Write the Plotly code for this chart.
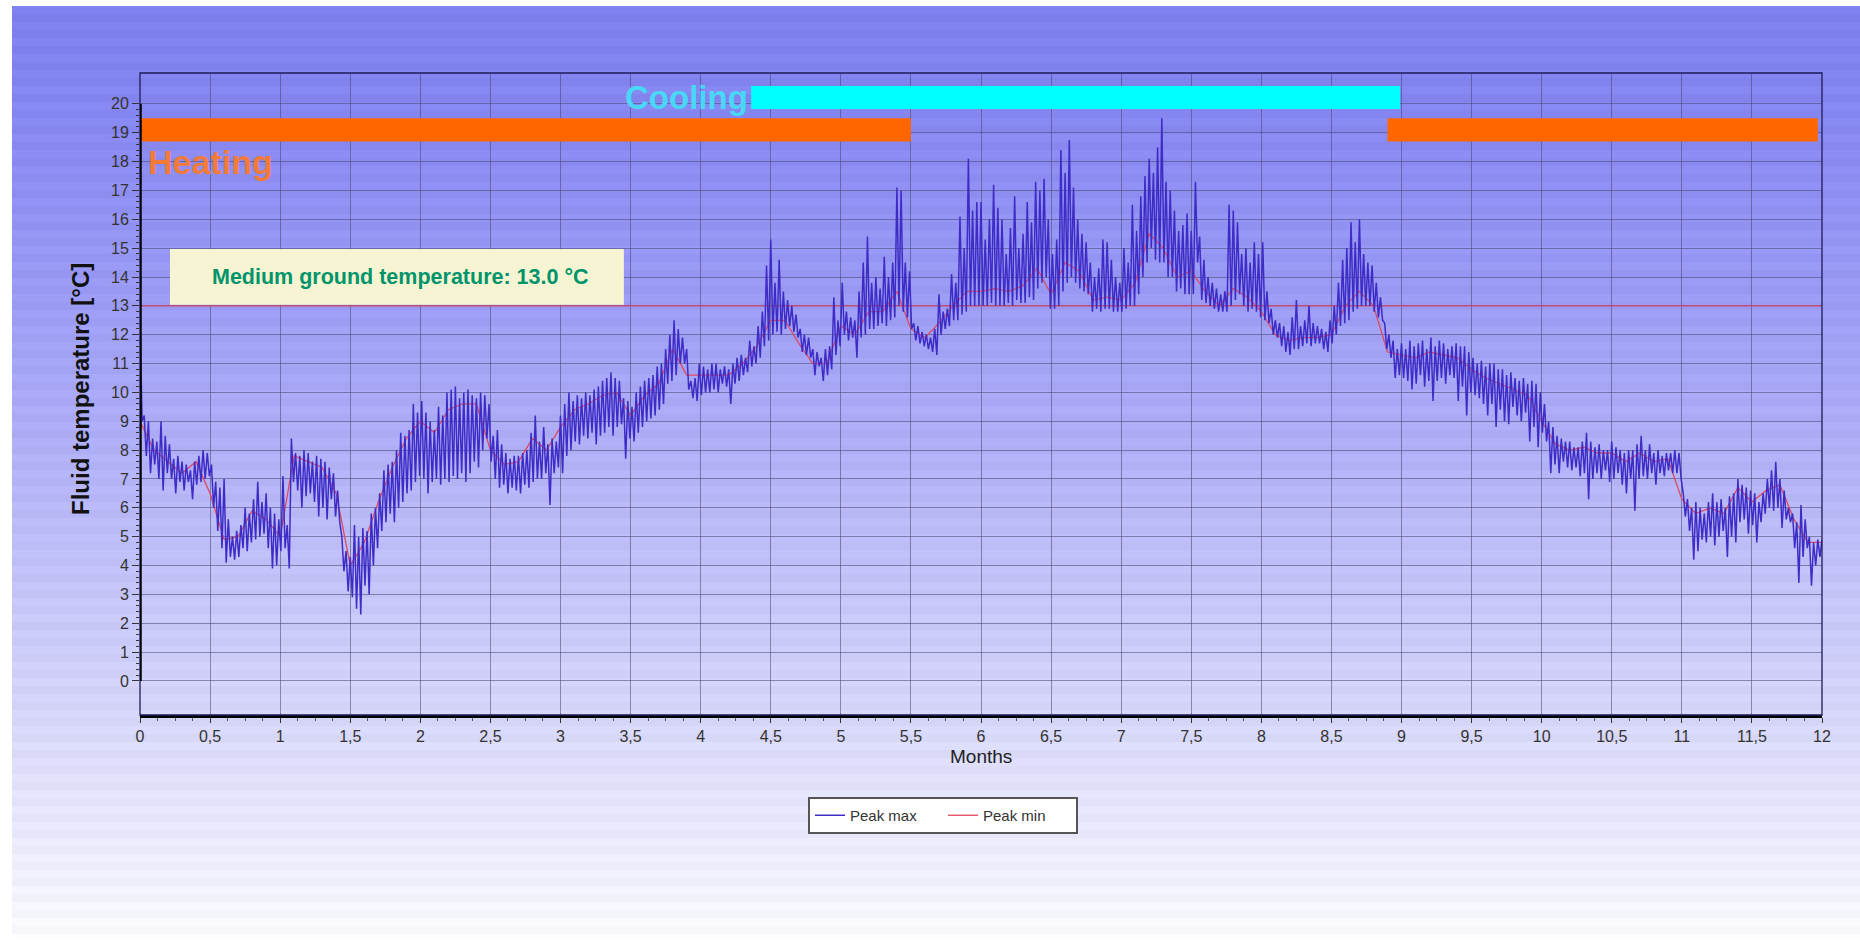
import numpy as np
import plotly.graph_objects as go

# ---------------- data ----------------
x_tick_vals = [0, 0.5, 1, 1.5, 2, 2.5, 3, 3.5, 4, 4.5, 5, 5.5, 6, 6.5, 7, 7.5, 8, 8.5,
               9, 9.5, 10, 10.5, 11, 11.5, 12]
x_tick_text = ["0", "0,5", "1", "1,5", "2", "2,5", "3", "3,5", "4", "4,5", "5", "5,5", "6",
               "6,5", "7", "7,5", "8", "8,5", "9", "9,5", "10", "10,5", "11", "11,5", "12"]
y_tick_vals = list(range(0, 21))

# Peak max: alternating high / low readings, one pair every 0.03 month (one row = 0.3 month)
peak_max = [
    12.3, 9.0, 9.2, 7.8, 9.0, 7.2, 8.4, 7.5, 8.3, 7.0, 9.0, 6.6, 8.5, 7.2, 8.2, 7.0, 7.7, 6.5, 7.8, 6.9,
    7.6, 6.6, 7.5, 6.9, 7.3, 6.3, 7.6, 6.8, 7.8, 6.9, 8.0, 7.0, 7.9, 7.1, 7.5, 6.0, 6.9, 5.2, 6.7, 4.6,
    7.0, 4.1, 5.6, 4.3, 5.0, 4.2, 5.2, 4.3, 5.4, 4.6, 6.0, 4.5, 5.8, 4.8, 6.3, 4.9, 6.9, 5.0, 6.2, 5.1,
    6.5, 4.6, 6.0, 3.9, 5.8, 4.0, 5.6, 4.5, 7.1, 4.6, 5.4, 3.9, 8.4, 6.9, 7.9, 6.6, 7.8, 6.0, 8.0, 6.4,
    7.9, 6.5, 7.6, 6.2, 7.8, 5.7, 7.7, 6.0, 7.6, 5.6, 7.4, 6.3, 7.2, 5.7, 6.6, 5.5, 5.0, 3.8, 4.5, 3.1,
    4.3, 2.9, 5.4, 2.5, 5.0, 2.3, 5.3, 3.3, 5.2, 3.0, 5.8, 4.0, 6.0, 4.6, 6.5, 5.2, 7.3, 5.5, 7.5, 5.8,
    7.6, 5.5, 8.0, 6.0, 8.6, 6.2, 8.5, 6.5, 8.7, 6.6, 9.6, 6.9, 9.3, 7.1, 9.7, 7.0, 9.3, 6.5, 9.0, 6.9,
    8.7, 7.0, 9.5, 6.8, 9.2, 7.0, 10.0, 6.9, 10.1, 7.1, 10.2, 7.0, 9.8, 7.2, 10.0, 6.9, 10.1, 7.2, 9.9, 7.6,
    9.8, 7.4, 10.0, 8.0, 9.9, 8.4, 9.6, 7.6, 8.5, 7.0, 8.7, 6.7, 8.2, 6.8, 7.9, 6.5, 7.7, 6.7, 7.8, 6.6,
    7.8, 6.5, 7.9, 6.8, 8.0, 6.7, 8.6, 6.9, 9.2, 7.0, 8.3, 7.0, 8.8, 7.2, 8.2, 6.1, 8.4, 7.2, 8.3, 7.4,
    9.2, 7.2, 9.6, 7.8, 10.0, 8.0, 9.7, 8.3, 9.9, 8.2, 9.8, 8.5, 10.0, 8.4, 9.9, 8.6, 10.1, 8.2, 10.2, 8.5,
    10.4, 8.6, 10.5, 8.8, 10.7, 8.5, 10.5, 8.8, 10.4, 8.9, 9.8, 7.7, 9.7, 8.4, 9.5, 8.3, 10.0, 8.6, 10.2, 8.8,
    10.4, 9.0, 10.5, 9.1, 10.6, 9.2, 10.9, 9.4, 11.0, 9.6, 11.5, 10.3, 12.0, 10.4, 12.5, 10.6, 12.2, 11.0, 11.9, 11.0,
    11.5, 10.1, 10.4, 9.8, 10.5, 9.7, 11.0, 9.9, 10.9, 10.0, 10.8, 10.0, 11.0, 10.1, 11.0, 10.0, 10.8, 10.3, 10.9, 10.2,
    10.8, 9.6, 11.0, 10.3, 11.2, 10.4, 11.3, 10.6, 11.2, 10.7, 11.8, 10.9, 11.6, 11.0, 12.3, 11.2, 12.8, 11.6, 14.4, 11.8,
    15.3, 12.0, 13.8, 12.1, 14.6, 12.0, 13.5, 12.2, 13.2, 12.3, 13.0, 12.1, 12.7, 11.9, 12.2, 11.4, 12.0, 11.3, 11.9, 11.2,
    11.5, 10.6, 11.4, 10.9, 11.2, 10.4, 11.5, 10.6, 11.6, 10.8, 13.3, 11.3, 12.5, 11.6, 13.8, 12.0, 12.8, 11.8, 12.6, 11.9,
    12.5, 11.2, 13.5, 11.9, 14.5, 12.0, 15.4, 12.2, 13.8, 12.2, 14.0, 12.3, 13.6, 12.4, 14.7, 12.3, 14.0, 12.5, 14.5, 12.6,
    17.1, 13.0, 17.0, 12.8, 14.5, 12.6, 14.2, 12.2, 12.4, 11.8, 12.3, 11.7, 12.1, 11.6, 12.0, 11.5, 11.9, 11.4, 12.2, 11.3,
    13.4, 12.0, 12.8, 12.2, 12.9, 12.3, 14.1, 12.5, 13.8, 12.5, 16.1, 12.7, 15.0, 12.8, 18.1, 13.0, 16.3, 13.0, 16.6, 13.0,
    16.6, 13.0, 15.3, 13.0, 16.0, 13.1, 17.2, 13.0, 16.4, 13.0, 16.0, 13.0, 14.8, 13.1, 15.7, 13.0, 16.8, 13.2, 15.0, 13.1,
    15.5, 13.1, 16.6, 13.3, 15.9, 13.2, 17.3, 13.6, 17.0, 13.8, 17.4, 14.0, 16.0, 12.9, 14.8, 12.9, 15.3, 13.0, 18.4, 13.5,
    17.6, 13.8, 18.75, 14.0, 17.1, 13.8, 16.0, 13.6, 15.5, 13.5, 15.2, 13.4, 14.5, 12.8, 14.0, 12.9, 14.3, 12.8, 15.3, 12.9,
    15.2, 12.9, 14.6, 12.8, 14.0, 12.8, 13.8, 12.8, 15.0, 12.9, 14.5, 13.0, 16.5, 13.0, 15.6, 13.4, 16.8, 14.0, 17.5, 14.5,
    18.1, 15.0, 17.6, 14.6, 18.5, 14.5, 19.5, 14.5, 17.3, 14.0, 17.0, 14.0, 16.3, 13.5, 15.6, 13.6, 15.8, 13.4, 16.2, 13.4,
    15.6, 13.4, 17.3, 14.5, 15.4, 13.2, 14.6, 13.1, 14.0, 13.0, 13.8, 12.9, 13.6, 12.8, 13.4, 12.8, 13.5, 12.8, 16.5, 13.0,
    16.3, 13.2, 15.9, 13.4, 14.8, 13.0, 15.0, 12.8, 14.5, 12.9, 15.2, 12.8, 14.8, 12.6, 15.2, 12.5, 13.5, 12.4, 12.9, 12.0,
    12.5, 11.9, 12.4, 11.6, 12.3, 11.4, 12.1, 11.3, 12.6, 11.5, 13.2, 11.5, 12.3, 11.6, 12.5, 11.7, 13.0, 11.6, 12.4, 11.7,
    12.3, 11.7, 12.2, 11.5, 12.1, 11.4, 12.5, 11.7, 13.0, 12.0, 13.8, 12.3, 14.6, 12.4, 15.0, 12.5, 15.9, 12.8, 15.2, 12.9,
    16.0, 13.0, 14.8, 13.0, 14.5, 13.0, 14.4, 12.8, 13.8, 12.6, 13.3, 12.5, 12.4, 11.5, 12.0, 11.2, 11.8, 10.5, 11.5, 10.6,
    11.7, 10.5, 11.5, 10.4, 11.8, 10.1, 11.6, 10.3, 11.7, 10.6, 11.8, 10.2, 11.5, 10.4, 11.9, 9.7, 11.6, 10.4, 11.8, 10.5,
    11.7, 10.3, 11.5, 10.6, 11.6, 10.5, 11.7, 9.7, 11.6, 10.2, 11.6, 9.2, 11.4, 10.0, 11.2, 9.9, 11.0, 9.8, 11.1, 9.6,
    10.9, 9.2, 11.0, 9.6, 11.0, 8.8, 10.8, 9.4, 10.8, 9.0, 10.6, 8.9, 10.7, 9.5, 10.5, 9.2, 10.4, 9.0, 10.5, 9.3,
    10.3, 8.3, 10.4, 8.8, 10.3, 8.1, 10.0, 8.6, 9.6, 8.3, 9.0, 7.2, 8.8, 7.5, 8.5, 7.2, 8.4, 7.6, 8.3, 7.4,
    8.3, 7.3, 8.1, 7.4, 8.1, 7.1, 8.3, 7.2, 8.6, 6.3, 8.3, 7.0, 8.1, 7.2, 8.2, 7.0, 8.0, 7.3, 8.0, 6.9,
    8.3, 7.0, 8.1, 7.2, 8.0, 6.8, 7.9, 6.5, 8.0, 7.0, 8.0, 5.9, 8.2, 7.0, 8.5, 7.1, 8.0, 7.0, 8.2, 7.2,
    7.9, 6.8, 8.0, 7.2, 7.8, 7.1, 7.9, 7.3, 7.9, 7.2, 8.0, 7.2, 7.9, 7.0, 6.5, 5.7, 6.3, 5.2, 6.0, 4.2,
    6.2, 4.5, 6.0, 4.9, 5.8, 4.8, 6.2, 5.0, 6.5, 4.7, 6.2, 5.0, 6.3, 5.2, 6.0, 4.3, 6.4, 5.0, 6.5, 4.8,
    7.0, 5.5, 6.8, 5.6, 6.7, 5.1, 6.6, 5.4, 6.5, 4.8, 6.2, 5.5, 6.5, 5.8, 7.0, 6.0, 7.3, 5.9, 7.6, 6.0,
    7.0, 5.3, 6.6, 5.6, 6.0, 5.5, 5.8, 4.6, 5.5, 3.4, 6.1, 4.3, 5.6, 4.6, 5.0, 3.3, 4.8, 4.0, 4.9, 4.3,
    4.9,
]
peak_max_step = 0.015  # months between consecutive readings

# Peak min: one reading every 0.1 month
peak_min = [
    9.0, 8.0, 7.6, 7.2, 7.6, 6.5, 4.9, 5.0, 5.9, 5.6,
    5.0, 7.8, 7.6, 7.4, 6.5, 4.0, 4.8, 6.2, 7.4, 8.4,
    9.0, 8.6, 9.4, 9.6, 9.6, 8.0, 7.5, 7.6, 8.4, 8.0,
    8.8, 9.4, 9.6, 9.9, 10.0, 9.2, 9.9, 10.3, 11.5, 10.6,
    10.6, 10.6, 10.6, 11.0, 11.6, 12.5, 12.5, 11.7, 11.0, 11.0,
    12.3, 12.0, 12.8, 12.8, 13.5, 12.2, 11.9, 12.4, 13.0, 13.5,
    13.5, 13.6, 13.5, 13.7, 14.3, 13.4, 14.5, 14.2, 13.2, 13.3,
    13.2, 13.8, 15.5, 15.0, 14.0, 14.2, 13.5, 13.0, 13.6, 13.3,
    12.8, 12.0, 11.8, 11.9, 11.9, 12.0, 13.0, 13.5, 13.0, 11.4,
    11.3, 11.2, 11.4, 11.3, 11.2, 10.8, 10.5, 10.3, 10.1, 9.9,
    9.0, 8.2, 8.0, 8.1, 7.9, 7.9, 7.6, 7.9, 7.6, 7.7,
    6.3, 5.8, 6.0, 5.8, 6.7, 6.2, 6.6, 6.8, 5.6, 4.8,
    4.8,
]
peak_min_step = 0.1

ground_temp = 13.0
heating_periods = [(0.0, 5.5), (8.9, 11.97)]
cooling_periods = [(4.36, 8.99)]
heating_band = (18.7, 19.5)
cooling_band = (19.82, 20.62)

# ---------------- layout geometry ----------------
W, H = 1860, 940
# plot box in window pixels
L, R, T, B = 140, 1822, 73, 715


def pxx(px):
    return (px - L) / (R - L)


def pxy(py):
    return (B - py) / (B - T)


fig = go.Figure()

months_max = np.arange(len(peak_max)) * peak_max_step
months_min = np.arange(len(peak_min)) * peak_min_step

fig.add_trace(go.Scatter(x=months_min, y=peak_min, mode="lines", name="Peak min",
                         line=dict(color="#E2485E", width=1.3), legendrank=2))
fig.add_trace(go.Scatter(x=months_max, y=peak_max, mode="lines", name="Peak max",
                         line=dict(color="#3E2CC6", width=1.5), legendrank=1))

shapes = []
# background gradient with faint horizontal stripes
stops_y = [6, 150, 300, 450, 600, 715, 800, 938]
stops_c = [(126, 126, 238), (138, 138, 242), (156, 156, 245), (176, 176, 247),
           (198, 198, 249), (214, 214, 250), (228, 228, 252), (250, 250, 254)]
stripe = 8
ys = np.arange(6, 938, stripe)
for i, y0 in enumerate(ys):
    yc = y0 + stripe / 2
    c = [np.interp(yc, stops_y, [s[k] for s in stops_c]) for k in range(3)]
    d = 3 if i % 2 == 0 else -2
    c = [int(min(255, max(0, v + d))) for v in c]
    shapes.append(dict(type="rect", xref="paper", yref="paper",
                       x0=pxx(12), x1=pxx(1862), y0=pxy(min(938, y0 + stripe)), y1=pxy(y0),
                       fillcolor=f"rgb({c[0]},{c[1]},{c[2]})", line=dict(width=0), layer="below"))

# ground temperature line
shapes.append(dict(type="line", xref="x", yref="y", x0=0, x1=12, y0=ground_temp, y1=ground_temp,
                   line=dict(color="#D2476A", width=1.3), layer="between"))
# heating / cooling bars
for a, b in heating_periods:
    shapes.append(dict(type="rect", xref="x", yref="y", x0=a, x1=b, y0=heating_band[0], y1=heating_band[1],
                       fillcolor="#FF6600", line=dict(width=0), layer="between"))
for a, b in cooling_periods:
    shapes.append(dict(type="rect", xref="x", yref="y", x0=a, x1=b, y0=cooling_band[0], y1=cooling_band[1],
                       fillcolor="#00FFFF", line=dict(width=0), layer="between"))
# info box
shapes.append(dict(type="rect", xref="x", yref="y", x0=0.214, x1=3.452, y0=13.04, y1=14.97,
                   fillcolor="#F6F4D3", line=dict(width=0), layer="above"))
# plot border
shapes.append(dict(type="rect", xref="paper", yref="paper", x0=0, x1=1, y0=0, y1=1,
                   line=dict(color="#1C1C58", width=1.3), layer="above"))
# thick y axis line from 0 to 20
shapes.append(dict(type="line", xref="x", yref="y", x0=0, x1=0, y0=0, y1=20,
                   line=dict(color="black", width=3.5), layer="above"))

FONT = "Liberation Sans, Arial"
annotations = [
    dict(x=4.35, y=20.22, xref="x", yref="y", text="<b>Cooling</b>", showarrow=False,
         xanchor="right", yanchor="middle", font=dict(size=33, color="#48D8F6", family=FONT)),
    dict(x=0.04, y=18.0, xref="x", yref="y", text="<b>Heating</b>", showarrow=False,
         xanchor="left", yanchor="middle", font=dict(size=34, color="#F47A3A", family=FONT)),
    dict(x=0.5, y=14.0, xref="x", yref="y", text="<b>Medium ground temperature: 13.0 °C</b>", showarrow=False,
         xanchor="left", yanchor="middle", font=dict(size=21.5, color="#00946A", family=FONT)),
    dict(x=pxx(80), y=pxy(389), xref="paper", yref="paper", text="<b>Fluid temperature [°C]</b>",
         showarrow=False, textangle=-90, xanchor="center", yanchor="middle",
         font=dict(size=24, color="#111111", family=FONT)),
    dict(x=6, y=pxy(757), xref="x", yref="paper", text="Months", showarrow=False,
         xanchor="center", yanchor="middle", font=dict(size=19, color="#222222", family=FONT)),
]

fig.update_layout(
    width=W, height=H, autosize=False,
    margin=dict(l=L, r=W - R, t=T, b=H - B, pad=0),
    paper_bgcolor="white", plot_bgcolor="rgba(0,0,0,0)",
    font=dict(family=FONT, color="#333333"),
    shapes=shapes, annotations=annotations,
    showlegend=True,
    legend=dict(orientation="h", x=pxx(943), y=pxy(797), xanchor="center", yanchor="top",
                bgcolor="white", bordercolor="#555555", borderwidth=2,
                font=dict(size=15, color="#333333"), itemwidth=30,
                entrywidth=88, entrywidthmode="pixels"),
    xaxis=dict(range=[0, 12], tickmode="array", tickvals=x_tick_vals, ticktext=x_tick_text,
               showgrid=True, gridcolor="rgba(70,70,110,0.55)", gridwidth=1,
               showline=True, linecolor="black", linewidth=3, mirror=False,
               ticks="outside", ticklen=5, tickcolor="#333333", tickfont=dict(size=16, color="#333333"),
               minor=dict(dtick=0.125, ticks="outside", ticklen=3, tickcolor="#555555", showgrid=False),
               zeroline=False, fixedrange=True),
    yaxis=dict(range=[-1.18, 21.07], tickmode="array", tickvals=y_tick_vals,
               showgrid=True, gridcolor="rgba(70,70,110,0.55)", gridwidth=1,
               showline=False, zeroline=False,
               ticks="outside", ticklen=7, tickcolor="#333333", tickfont=dict(size=16, color="#333333"),
               minor=dict(tickmode="array", tickvals=[round(v, 2) for v in np.arange(0, 20.01, 0.2)],
                          ticks="outside", ticklen=3, tickcolor="#333333", showgrid=False),
               fixedrange=True),
)

# remove the browser's default page margin so the figure fills the 1860x940 window exactly
fig.write_html(
    "out.html",
    config={"displayModeBar": False, "displaylogo": False},
    post_script="document.body.style.margin='0px';document.documentElement.style.overflow='hidden';",
)
